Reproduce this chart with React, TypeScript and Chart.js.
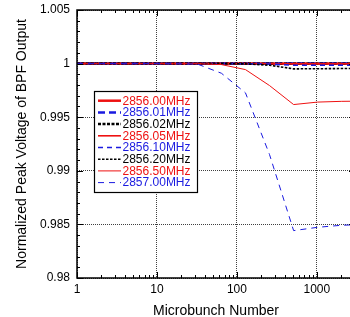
import { useEffect, useRef } from "react";
import { Chart, registerables } from "chart.js";
Chart.register(...registerables);

const microbunch = [1, 2, 4, 8, 16, 32, 64, 128, 256, 512, 1024, 2048, 4096];
const f2856_00 = [1, 1, 1, 1, 1, 1, 1, 1, 1, 1, 1, 1, 1];
const f2856_01 = [1, 1, 1, 1, 1, 1, 1, 1, 1, 1, 1, 1, 1];
const f2856_02 = [1, 1, 1, 1, 1, 1, 1, 1, 0.99999, 0.99998, 0.99998, 0.99998, 0.99998];
const f2856_05 = [1, 1, 1, 1, 1, 1, 1, 1, 0.99999, 0.99997, 0.99997, 0.99997, 0.99997];
const f2856_10 = [1, 1, 1, 1, 1, 1, 1, 0.99999, 0.99995, 0.99985, 0.99984, 0.99984, 0.99984];
const f2856_20 = [1, 1, 1, 1, 1, 1, 1, 0.99997, 0.99985, 0.99951, 0.99952, 0.99954, 0.99955];
const f2856_50 = [1, 1, 1, 1, 1, 1, 0.99991, 0.99944, 0.99795, 0.99618, 0.99641, 0.99648, 0.9965];
const f2857_00 = [1, 1, 1, 1, 0.99999, 0.99996, 0.9991, 0.99727, 0.99151, 0.98442, 0.98473, 0.98492, 0.985];

const seriesLabels = ["2856.00MHz", "2856.01MHz", "2856.02MHz", "2856.05MHz", "2856.10MHz", "2856.20MHz", "2856.50MHz", "2857.00MHz"];
const seriesValues = [f2856_00, f2856_01, f2856_02, f2856_05, f2856_10, f2856_20, f2856_50, f2857_00];
const seriesColors = ["#ee1111", "#1a1ae0", "#000000", "#ee1111", "#1a1ae0", "#000000", "#ee1111", "#1a1ae0"];
const seriesWidths = [2.5, 2.5, 2.5, 1.6, 1.6, 1.6, 1, 1];
const seriesDashes: number[][] = [[], [7, 4], [3, 1.5], [], [5, 4], [2.5, 1.5], [], [6, 5]];

const xTickValues = [1, 10, 100, 1000];
const xTickLabels = ["1", "10", "100", "1000"];
const yTickValues = [0.98, 0.985, 0.99, 0.995, 1, 1.005];
const yTickLabels = ["0.98", "0.985", "0.99", "0.995", "1", "1.005"];

const FONT = "'Liberation Sans', Arial, Helvetica, sans-serif";

const framePlugin = {
  id: "framePlugin",
  afterDraw(chart: any) {
    const { ctx, chartArea: a, scales } = chart;
    const xs = scales.x;
    const ys = scales.y;
    ctx.save();
    ctx.strokeStyle = "#000";
    ctx.lineWidth = 1;
    ctx.setLineDash([]);
    const line = (x1: number, y1: number, x2: number, y2: number) => {
      ctx.beginPath();
      ctx.moveTo(x1, y1);
      ctx.lineTo(x2, y2);
      ctx.stroke();
    };
    for (let d = 0; d < 4; d++) {
      for (let k = 1; k < 10; k++) {
        const v = k * Math.pow(10, d);
        if (v < xs.min || v > xs.max) continue;
        const px = Math.round(xs.getPixelForValue(v)) + 0.5;
        const len = k === 1 ? 6 : 3;
        line(px, a.bottom, px, a.bottom - len);
        line(px, a.top, px, a.top + len);
      }
    }
    for (let i = 0; i <= 25; i++) {
      const v = 0.98 + i * 0.001;
      const py = Math.round(ys.getPixelForValue(v)) + 0.5;
      const len = i % 5 === 0 ? 6 : 3;
      line(a.left, py, a.left + len, py);
      line(a.right, py, a.right - len, py);
    }
    ctx.lineWidth = 1.5;
    ctx.strokeRect(a.left, a.top, a.right - a.left, a.bottom - a.top);

    // legend
    const bx = 94.5, by = 91.5, bw = 103, bh = 101;
    ctx.fillStyle = "#fff";
    ctx.fillRect(bx, by, bw, bh);
    ctx.lineWidth = 1.2;
    ctx.strokeStyle = "#000";
    ctx.strokeRect(bx, by, bw, bh);
    ctx.font = `12px ${FONT}`;
    ctx.textBaseline = "middle";
    ctx.textAlign = "left";
    seriesLabels.forEach((lab, i) => {
      const cy = 100.7 + i * 11.7;
      ctx.strokeStyle = seriesColors[i];
      ctx.lineWidth = seriesWidths[i];
      ctx.setLineDash(seriesDashes[i]);
      line(98, cy, 121, cy);
      ctx.setLineDash([]);
      ctx.fillStyle = seriesColors[i];
      ctx.fillText(lab, 122.5, cy + 0.5);
    });
    ctx.restore();
  },
};

export default function App() {
  const ref = useRef<HTMLCanvasElement>(null);
  useEffect(() => {
    if (!ref.current) return;
    const chart = new Chart(ref.current, {
      type: "line",
      data: {
        datasets: seriesLabels.map((label, i) => ({
          label,
          data: microbunch.map((x, j) => ({ x, y: seriesValues[i][j] })),
          borderColor: seriesColors[i],
          backgroundColor: seriesColors[i],
          borderWidth: seriesWidths[i],
          borderDash: seriesDashes[i],
          pointRadius: 0,
          tension: 0,
          fill: false,
          order: -i,
        })),
      },
      options: {
        animation: false,
        responsive: false,
        layout: { padding: { left: 0, top: 10, right: 1, bottom: 0 } },
        plugins: { legend: { display: false }, tooltip: { enabled: false } },
        scales: {
          x: {
            type: "logarithmic",
            min: 1,
            max: 3000,
            afterBuildTicks: (s: any) => {
              s.ticks = xTickValues.map((v) => ({ value: v }));
            },
            afterFit: (s: any) => {
              s.height = 39;
              s.paddingLeft = 0;
              s.paddingRight = 0;
            },
            ticks: {
              autoSkip: false,
              maxRotation: 0,
              padding: 4,
              color: "#000",
              font: { family: FONT, size: 12 },
              callback: (v: any) => {
                const idx = xTickValues.indexOf(Number(v));
                return idx >= 0 ? xTickLabels[idx] : "";
              },
            },
            grid: { color: "rgba(0,0,0,0.75)", lineWidth: 1, drawTicks: false },
            border: { display: false, dash: [1, 1] },
            title: {
              display: true,
              text: "Microbunch Number",
              color: "#000",
              font: { family: FONT, size: 14, lineHeight: 0.6 },
              padding: { top: 0, bottom: 2 },
            },
          },
          y: {
            type: "linear",
            min: 0.98,
            max: 1.005,
            afterBuildTicks: (s: any) => {
              s.ticks = yTickValues.map((v) => ({ value: v }));
            },
            afterFit: (s: any) => {
              s.width = 77;
              s.paddingTop = 0;
              s.paddingBottom = 0;
            },
            ticks: {
              padding: 7,
              color: "#000",
              font: { family: FONT, size: 12 },
              callback: (v: any) => {
                const idx = yTickValues.findIndex((t) => Math.abs(t - Number(v)) < 1e-9);
                return idx >= 0 ? yTickLabels[idx] : "";
              },
            },
            grid: { color: "rgba(0,0,0,0.75)", lineWidth: 1, drawTicks: false },
            border: { display: false, dash: [1, 1] },
            title: {
              display: true,
              text: "Normalized Peak Voltage of BPF Output",
              color: "#000",
              font: { family: FONT, size: 14 },
              padding: { top: 14, bottom: 0 },
            },
          },
        },
      },
      plugins: [framePlugin],
    } as any);
    return () => chart.destroy();
  }, []);
  return (
    <div style={{ position: "fixed", left: 0, top: 0, width: 350, height: 317, overflow: "hidden", background: "#fff" }}>
      <canvas ref={ref} width={356} height={317} style={{ width: 356, height: 317, display: "block" }} />
    </div>
  );
}
